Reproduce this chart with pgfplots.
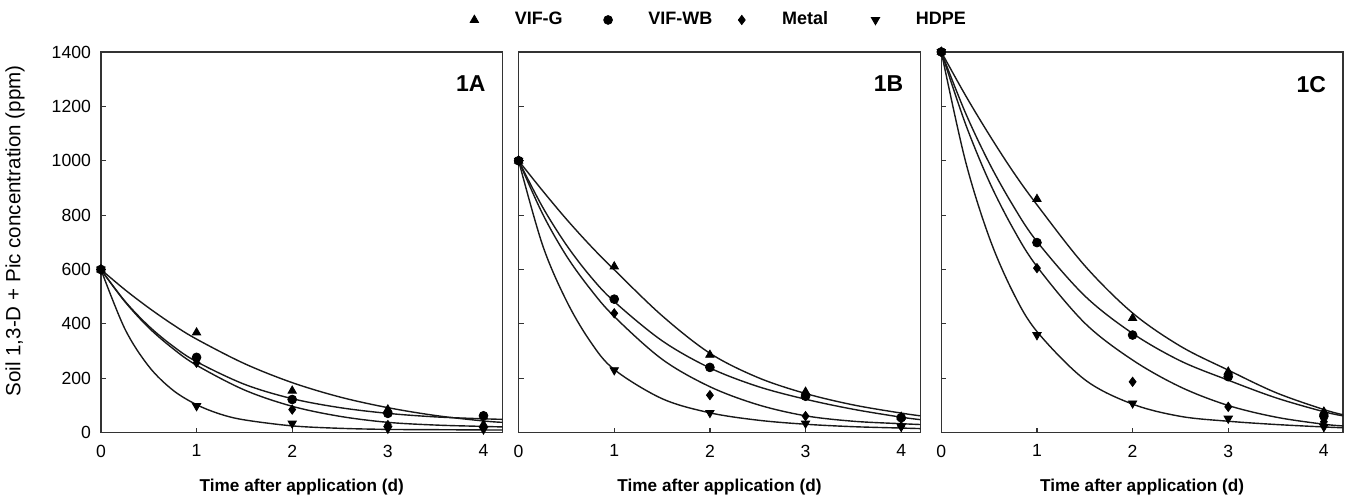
\documentclass[border=0pt]{standalone}
\usepackage{fontspec}
\setmainfont{Liberation Sans}
\usepackage{pgfplots}
\pgfplotsset{compat=1.18}

\pgfplotsset{
  panel/.style={
    scale only axis, width=201pt, height=190.5pt,
    xmin=0, xmax=4.2, ymin=0, ymax=1400,
    xtick={0,1,2,3,4}, ytick={0,200,...,1400},
    tick align=inside, xtick pos=bottom, ytick pos=left,
    major tick length=2.5pt,
    axis line style={black!80, line width=0.7pt},
    tick style={black!80, line width=0.6pt},
    ticklabel style={font=\fontsize{8.8}{10}\selectfont},
    xticklabel style={yshift=-2.5pt},
    yticklabel style={xshift=-1.5pt},
    /pgf/number format/assume math mode=true,
    /pgf/number format/1000 sep={},
    xlabel={Time after application (d)},
    xlabel style={at={(axis description cs:0.5,-0.142)}, anchor=center,
      font=\bfseries\fontsize{8.6}{10}\selectfont},
  },
  fitcurve/.style={black!90, line width=0.7pt, smooth, tension=0.55, no marks, forget plot},
  gmark/.style={only marks, black, mark=triangle*, mark size=2.4pt},
  wbmark/.style={only marks, black, mark=*, mark size=2.2pt},
  mmark/.style={only marks, black, mark=diamond*, mark size=2.3pt},
  hmark/.style={only marks, black, mark=triangle*, mark size=2.4pt, mark options={rotate=180}},
}
\tikzset{panellabel/.style={anchor=north east, font=\bfseries\fontsize{11.5}{13}\selectfont}}

\begin{document}
\begin{tikzpicture}

% 1A: 600 ppm
\begin{axis}[panel, name=a1, at={(0,0)},
  ylabel={Soil 1,3-D + Pic concentration (ppm)},
  ylabel style={at={(axis description cs:-0.214,0.53)}, anchor=center,
    font=\fontsize{10.3}{12}\selectfont}]
\addplot[gmark] coordinates {(0,600) (1,368) (2,154) (3,85) (4,30)};
\addplot[wbmark] coordinates {(0,600) (1,277) (2,122) (3,71) (4,62)};
\addplot[mmark] coordinates {(0,600) (1,257) (2,85) (3,28) (4,18)};
\addplot[hmark] coordinates {(0,600) (1,98) (2,34) (3,15) (4,12)};
\addplot[fitcurve] coordinates {(0,600) (0.25,526) (0.5,459) (0.75,398) (1,344) (1.5,254) (2,184) (2.5,131) (3,92) (3.5,63) (4,43) (4.2,38)};
\addplot[fitcurve] coordinates {(0,600) (0.25,484) (0.5,392) (0.75,319) (1,261) (1.5,178) (2,125) (2.5,92) (3,71) (3.5,58) (4,51) (4.2,49)};
\addplot[fitcurve] coordinates {(0,600) (0.25,482) (0.5,386) (0.75,310) (1,248) (1.5,157) (2,97) (2.5,60) (3,38) (3.5,28) (4,23) (4.2,21)};
\addplot[fitcurve] coordinates {(0,600) (0.25,382) (0.5,244) (0.75,157) (1,103) (1.25,68) (1.5,47) (2,25) (2.5,16) (3,12) (3.5,11) (4,10) (4.2,10)};
\node[panellabel] at (rel axis cs:0.975,0.955) {1A};
\end{axis}

% 1B: 1000 ppm
\begin{axis}[panel, name=a2, at={(209pt,0)}, yticklabels={},
  legend style={at={(axis description cs:0.516,1.084)}, anchor=center,
    draw=none, fill=none, legend columns=4,
    font=\bfseries\fontsize{9}{11}\selectfont,
    nodes={text width=32pt, align=left},
    /tikz/every even column/.append style={column sep=9.5pt}},
  legend image code/.code={\draw[#1] plot coordinates {(0pt,0pt)}; \path (-3pt,0pt) (18pt,0pt);}]
\addplot[gmark] coordinates {(0,1000) (1,611) (2,286) (3,150) (4,58)};
\addlegendentry{VIF-G}
\addplot[wbmark] coordinates {(0,1000) (1,491) (2,240) (3,134) (4,55)};
\addlegendentry{VIF-WB}
\addplot[mmark] coordinates {(0,1000) (1,439) (2,138) (3,61) (4,24)};
\addlegendentry{Metal}
\addplot[hmark] coordinates {(0,1000) (1,230) (2,73) (3,34) (4,22)};
\addlegendentry{HDPE}
\addplot[fitcurve] coordinates {(0,1000) (0.25,890) (0.5,785) (0.75,688) (1,599) (1.5,430) (2,292) (2.5,203) (3,144) (3.5,102) (4,72) (4.2,62)};
\addplot[fitcurve] coordinates {(0,1000) (0.25,830) (0.5,690) (0.75,575) (1,482) (1.5,338) (2,238) (2.5,170) (3,123) (3.5,86) (4,57) (4.2,48)};
\addplot[fitcurve] coordinates {(0,1000) (0.25,805) (0.5,650) (0.75,528) (1,427) (1.5,270) (2,169) (2.5,103) (3,62) (3.5,42) (4,33) (4.2,30)};
\addplot[fitcurve] coordinates {(0,1000) (0.25,690) (0.5,485) (0.75,335) (1,232) (1.5,125) (2,73) (2.5,46) (3,31) (3.5,22) (4,17) (4.2,15)};
\node[panellabel] at (rel axis cs:0.975,0.955) {1B};
\end{axis}

% 1C: 1400 ppm
\begin{axis}[panel, name=a3, at={(420.5pt,0)}, yticklabels={}]
\addplot[gmark] coordinates {(0,1400) (1,859) (2,421) (3,224) (4,77)};
\addplot[wbmark] coordinates {(0,1400) (1,699) (2,359) (3,206) (4,61)};
\addplot[mmark] coordinates {(0,1400) (1,605) (2,187) (3,95) (4,40)};
\addplot[hmark] coordinates {(0,1400) (1,359) (2,108) (3,52) (4,21)};
\addplot[fitcurve] coordinates {(0,1400) (0.25,1242) (0.5,1096) (0.75,960) (1,838) (1.5,614) (2,440) (2.5,318) (3,230) (3.5,147) (4,85) (4.2,66)};
\addplot[fitcurve] coordinates {(0,1400) (0.25,1178) (0.5,992) (0.75,835) (1,703) (1.5,503) (2,365) (2.5,264) (3,193) (3.5,128) (4,77) (4.2,62)};
\addplot[fitcurve] coordinates {(0,1400) (0.25,1138) (0.5,924) (0.75,751) (1,611) (1.5,403) (2,267) (2.5,168) (3,100) (3.5,57) (4,31) (4.2,25)};
\addplot[fitcurve] coordinates {(0,1400) (0.25,1002) (0.5,719) (0.75,516) (1,372) (1.5,195) (2,105) (2.5,60) (3,42) (3.5,30) (4,21) (4.2,18)};
\node[panellabel] at (rel axis cs:0.975,0.955) {1C};
\end{axis}

\pgfresetboundingbox
\path ([xshift=-50.5pt,yshift=-33.5pt]a1.south west) rectangle ([xshift=1.5pt,yshift=26pt]a3.north east);
\end{tikzpicture}
\end{document}
